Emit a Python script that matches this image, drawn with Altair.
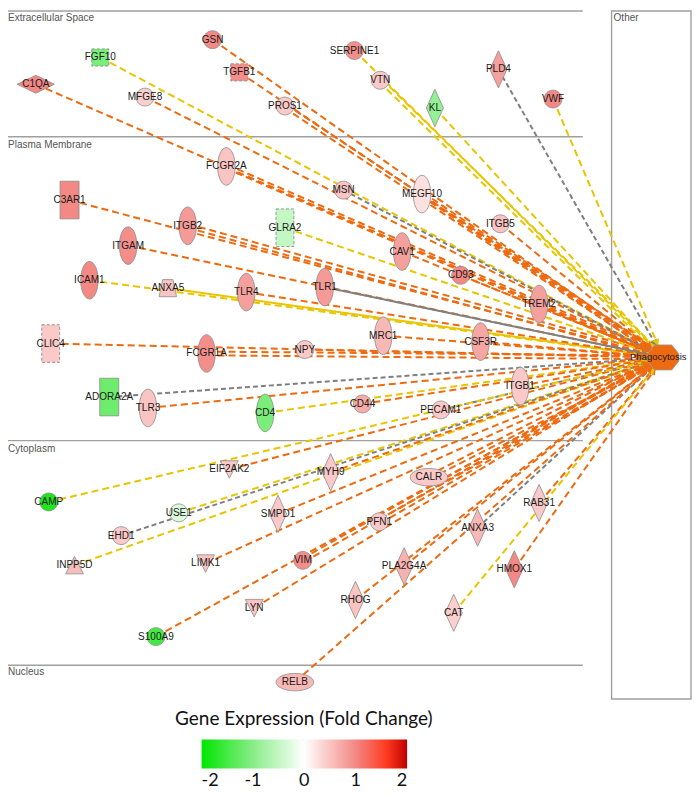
import math
import altair as alt
import pandas as pd

# ---------------- data ----------------
genes = ["GSN", "FGF10", "C1QA", "MFGE8", "TGFB1", "PROS1", "SERPINE1", "VTN", "KL", "PLD4", "VWF",
         "FCGR2A", "C3AR1", "ITGB2", "ITGAM", "GLRA2", "ICAM1", "ANXA5", "TLR4", "MSN", "MEGF10",
         "ITGB5", "CAV1", "CD93", "TLR1", "TREM2", "MRC1", "CSF3R", "NPY", "CLIC4", "FCGR1A",
         "ADORA2A", "TLR3", "CD4", "ITGB1", "CD44", "PECAM1",
         "EIF2AK2", "CAMP", "USE1", "SMPD1", "EHD1", "INPP5D", "LIMK1", "MYH9", "CALR", "PFN1",
         "ANXA3", "RAB31", "VIM", "PLA2G4A", "HMOX1", "RHOG", "CAT", "LYN", "S100A9",
         "RELB"]
pos_x = [214, 101, 36, 146, 241, 287, 357, 383, 438, 502, 557,
         228, 70, 189, 129, 287, 90, 169, 248, 346, 425,
         504, 405, 464, 327, 543, 386, 484, 307, 51, 208,
         110, 149, 267, 524, 365, 444,
         231, 49, 180, 280, 122, 75, 207, 333, 432, 382,
         481, 543, 305, 407, 518, 358, 457, 256, 157,
         297]
pos_y = [40, 58, 85, 98, 73, 107, 51, 81, 109, 70, 100,
         168, 202, 228, 248, 230, 283, 291, 295, 192, 196,
         226, 254, 278, 290, 307, 339, 345, 353, 347, 357,
         401, 412, 417, 390, 408, 414,
         474, 507, 518, 519, 541, 571, 569, 477, 482, 527,
         533, 508, 566, 572, 575, 606, 619, 614, 643,
         689]
mol_type = ["other", "growth factor", "peptidase", "other", "growth factor", "other", "other", "other", "enzyme", "enzyme", "other",
            "transmembrane receptor", "G-protein coupled receptor", "transmembrane receptor", "transmembrane receptor", "ion channel",
            "transmembrane receptor", "transporter", "transmembrane receptor", "other", "transmembrane receptor",
            "other", "transmembrane receptor", "other", "transmembrane receptor", "transmembrane receptor", "transmembrane receptor",
            "transmembrane receptor", "other", "ion channel", "transmembrane receptor",
            "G-protein coupled receptor", "transmembrane receptor", "transmembrane receptor", "transmembrane receptor", "other", "other",
            "kinase", "other", "other", "enzyme", "other", "phosphatase", "kinase", "enzyme", "transcription regulator", "other",
            "enzyme", "enzyme", "other", "enzyme", "enzyme", "enzyme", "enzyme", "kinase", "other",
            "transcription regulator"]
fold_change = [1.0, -1.1, 1.0, 0.4, 0.95, 0.45, 0.95, 0.45, -0.9, 0.8, 1.0,
               0.5, 1.0, 0.85, 0.95, -0.5, 1.0, 0.5, 0.8, 0.5, 0.25,
               0.5, 0.8, 1.0, 0.85, 0.8, 0.6, 0.75, 0.45, 0.45, 0.95,
               -1.2, 0.5, -1.1, 0.45, 0.7, 0.45,
               0.45, -1.8, -0.3, 0.45, 0.45, 0.55, 0.5, 0.45, 0.45, 0.45,
               0.6, 0.45, 0.95, 0.65, 1.0, 0.5, 0.4, 0.5, -1.5,
               0.6]
A, Yl, G = "leads to activation", "findings inconsistent", "effect not predicted"
relation = [A, Yl, A, A, A, A, Yl, Yl, Yl, G, Yl,
            A, A, A, A, Yl, Yl, Yl, A, G, A,
            A, A, A, G, A, A, A, A, A, A,
            G, A, Yl, A, A, G,
            A, Yl, Yl, A, G, Yl, A, A, A, A,
            G, A, A, A, A, A, Yl, A, A,
            A]
link_style = ["indirect"] * len(genes)
link_style[genes.index("ANXA5")] = "direct"
link_style[genes.index("TLR1")] = "direct"
link_count = [2 if g in ("PROS1", "VTN", "FCGR2A", "ITGB2", "MEGF10", "FCGR1A", "CALR", "PFN1", "VIM") else 1
              for g in genes]

target_name = "Phagocytosis"
target_x, target_y = 668, 361
target_label_x = 663

section_names = ["Extracellular Space", "Plasma Membrane", "Cytoplasm", "Nucleus"]
section_line_y = [11, 138, 445, 672]
section_label_y = [18, 146, 453, 679]
section_x0, section_x1 = 7, 587
other_name = "Other"
other_box = (616, 11, 696, 706)

legend_title = "Gene Expression (Fold Change)"
legend_ticks = [-2, -1, 0, 1, 2]
fold_domain = [-2, -1, 0, 1, 1.6, 2]
fold_colors = ["#00e600", "#88ee88", "#ffffff", "#f38884", "#ff3a20", "#c00000"]

rel_domain = [A, Yl, G]
rel_colors = ["#ee6a10", "#e8c500", "#7f7f7f"]

# ---------------- geometry helpers ----------------
W, H = 684, 784
XD, YD = [8, 697], [8, 800]
SX = W / (XD[1] - XD[0])
SY = H / (YD[1] - YD[0])


def ellipse(rx, ry):
    k = 0.5523
    return (f"M0,{-ry} C{k*rx:.3f},{-ry} {rx},{-k*ry:.3f} {rx},0 "
            f"C{rx},{k*ry:.3f} {k*rx:.3f},{ry} 0,{ry} "
            f"C{-k*rx:.3f},{ry} {-rx},{k*ry:.3f} {-rx},0 "
            f"C{-rx},{-k*ry:.3f} {-k*rx:.3f},{-ry} 0,{-ry} Z")


shape_map = {
    "other": ellipse(0.47, 0.47),
    "transmembrane receptor": ellipse(0.46, 0.99),
    "transcription regulator": ellipse(0.99, 0.46),
    "enzyme": "M0,-0.98 L0.45,0 L0,0.98 L-0.45,0 Z",
    "peptidase": "M-0.98,0 L0,-0.47 L0.98,0 L0,0.47 Z",
    "growth factor": "M-0.45,-0.45 L0.45,-0.45 L0.45,0.45 L-0.45,0.45 Z",
    "ion channel": "M-0.47,-0.99 L0.47,-0.99 L0.47,0.99 L-0.47,0.99 Z",
    "G-protein coupled receptor": "M-0.5,-0.99 L0.5,-0.99 L0.5,0.99 L-0.5,0.99 Z",
    "kinase": "M-0.47,-0.45 L0.47,-0.45 L0,0.47 Z",
    "phosphatase": "M0,-0.47 L0.47,0.45 L-0.47,0.45 Z",
    "transporter": "M-0.27,-0.45 L0.27,-0.45 L0.46,0.45 L-0.46,0.45 Z",
}
octagon = "M-0.45,-0.66 L0.45,-0.66 L0.82,-0.2 L0.82,0.2 L0.45,0.66 L-0.45,0.66 L-0.82,0.2 L-0.82,-0.2 Z"
NODE_SIZE = 38 * 38

nodes = pd.DataFrame({"name": genes, "x": pos_x, "y": pos_y, "type": mol_type, "fold": fold_change})

edge_rows, arrow_rows = [], []
for g, x, y, rel, sty, n in zip(genes, pos_x, pos_y, relation, link_style, link_count):
    dx, dy = target_x - x, target_y - y
    L = math.hypot(dx, dy)
    ux, uy = dx / L, dy / L
    r = 1.0 / math.sqrt((ux / 16.0) ** 2 + (uy / 13.0) ** 2)
    ex, ey = target_x - ux * r, target_y - uy * r
    px, py = -uy, ux
    offs = [0.0] if n == 1 else [-1.9, 1.9]
    dash = "solid" if sty == "direct" else ("fine" if rel == G else "coarse")
    for o in offs:
        edge_rows.append(dict(x=x + px * o, y=y + py * o, x2=ex + px * o, y2=ey + py * o,
                              rel=rel, dash=dash))
    arrow_rows.append(dict(x=ex - ux * 3, y=ey - uy * 3,
                           angle=math.degrees(math.atan2(uy, ux)) % 360, rel=rel))
edges = pd.DataFrame(edge_rows)
arrows = pd.DataFrame(arrow_rows)

xs = alt.Scale(domain=XD, nice=False, zero=False)
ys = alt.Scale(domain=YD, nice=False, zero=False, reverse=True)


def X(f="x"):
    return alt.X(f + ":Q", scale=xs, axis=None)


def Y(f="y"):
    return alt.Y(f + ":Q", scale=ys, axis=None)


rel_scale = alt.Scale(domain=rel_domain, range=rel_colors)

# legend placement (reference pixel positions converted to chart pixels)
grad_left, grad_top, grad_right, grad_bottom = 203, 747, 410, 776
legend_x = (grad_left - XD[0]) * SX
legend_y = (grad_top - YD[0]) * SY
legend_len = (grad_right - grad_left) * SX

# ---------------- layers ----------------
sec_df = pd.DataFrame({"name": section_names, "y": section_line_y, "ly": section_label_y,
                       "x": section_x0, "x2": section_x1})
sec_lines = alt.Chart(sec_df).mark_rule(color="#a0a0a0", strokeWidth=1.4).encode(
    x=X(), x2=alt.X2("x2:Q"), y=Y())
sec_labels = alt.Chart(sec_df).mark_text(align="left", baseline="middle", font="Liberation Sans",
                                         fontSize=10, color="#555555", dx=1).encode(
    x=X(), y=Y("ly"), text="name:N")

box_df = pd.DataFrame({"name": [other_name], "x": [other_box[0]], "y": [other_box[1]],
                       "x2": [other_box[2]], "y2": [other_box[3]], "ly": [18]})
box = alt.Chart(box_df).mark_rect(fillOpacity=0, stroke="#a0a0a0", strokeWidth=1.4).encode(
    x=X(), x2=alt.X2("x2:Q"), y=Y(), y2=alt.Y2("y2:Q"))
box_label = alt.Chart(box_df).mark_text(align="left", baseline="middle", font="Liberation Sans",
                                        fontSize=10, color="#555555", dx=2).encode(
    x=X(), y=Y("ly"), text="name:N")

edge_layer = alt.Chart(edges).mark_rule().encode(
    x=X(), y=Y(), x2=alt.X2("x2:Q"), y2=alt.Y2("y2:Q"),
    color=alt.Color("rel:N", scale=rel_scale, legend=None),
    strokeWidth=alt.StrokeWidth("rel:N", scale=alt.Scale(domain=rel_domain, range=[2, 2, 1.2]), legend=None),
    strokeDash=alt.StrokeDash("dash:N", scale=alt.Scale(domain=["solid", "fine", "coarse"],
                                                        range=[[1, 0], [5, 3], [7, 4]]), legend=None),
)
arrow_layer = alt.Chart(arrows).mark_point(shape="triangle-right", filled=True, size=55, opacity=1).encode(
    x=X(), y=Y(), angle=alt.Angle("angle:Q", scale=None),
    color=alt.Color("rel:N", scale=rel_scale, legend=None))

shape_scale = alt.Scale(domain=list(shape_map.keys()), range=list(shape_map.values()))
node_layer = alt.Chart(nodes).mark_point(filled=True, size=NODE_SIZE, opacity=1, stroke="#8c8c8c",
                                         strokeWidth=0.8).encode(
    x=X(), y=Y(),
    shape=alt.Shape("type:N", scale=shape_scale, legend=None),
    fill=alt.Fill("fold:Q", scale=alt.Scale(domain=fold_domain, range=fold_colors, interpolate="rgb"),
                  legend=alt.Legend(orient="none", legendX=legend_x, legendY=legend_y, direction="horizontal",
                                    title=None, gradientLength=legend_len, gradientThickness=29,
                                    gradientStrokeWidth=0, labelFontSize=18, labelFont="Lato",
                                    labelColor="#111111", values=legend_ticks, labelOverlap=False,
                                    labelOffset=3, labelExpr="'' + datum.value", zindex=0,
                                    padding=0)),
    strokeOpacity=alt.condition("datum.type == 'growth factor' || datum.type == 'ion channel'",
                                alt.value(0), alt.value(1)),
)
dashed_border = alt.Chart(nodes).transform_filter(
    "datum.type == 'growth factor' || datum.type == 'ion channel'"
).mark_point(filled=False, size=NODE_SIZE, opacity=1, stroke="#8c8c8c", strokeWidth=0.9,
             strokeDash=[3, 2]).encode(
    x=X(), y=Y(), shape=alt.Shape("type:N", scale=shape_scale, legend=None))

target_df = pd.DataFrame({"name": [target_name], "x": [target_x], "y": [target_y]})
target_layer = alt.Chart(target_df).mark_point(shape=octagon, size=NODE_SIZE, filled=True, opacity=1,
                                               fill="#ee6a10", stroke="#999999", strokeWidth=0.8).encode(
    x=X(), y=Y())

labels_df = nodes[["name", "x", "y"]].copy()
label_layer = alt.Chart(labels_df).mark_text(font="Liberation Sans", fontSize=10, color="#1a1a1a",
                                             baseline="middle", align="center").encode(
    x=X(), y=Y(), text="name:N")
target_label = alt.Chart(pd.DataFrame({"name": [target_name], "x": [target_label_x], "y": [target_y]})).mark_text(
    font="Liberation Sans", fontSize=9.5, color="#1a1a1a", baseline="middle", align="center").encode(
    x=X(), y=Y(), text="name:N")

title_df = pd.DataFrame({"t": [legend_title], "x": [306], "y": [726]})
legend_title_layer = alt.Chart(title_df).mark_text(font="Lato", fontSize=19, color="#111111",
                                                   baseline="middle", align="center").encode(
    x=X(), y=Y(), text="t:N")
zero_df = pd.DataFrame({"x": [305], "y": [grad_top], "y2": [grad_bottom]})
zero_line = alt.Chart(zero_df).mark_rule(color="#b0b0b0", strokeWidth=1).encode(
    x=X(), y=Y(), y2=alt.Y2("y2:Q"))

chart = alt.layer(
    sec_lines, box, edge_layer, arrow_layer, node_layer, dashed_border, target_layer,
    sec_labels, box_label, label_layer, target_label, legend_title_layer, zero_line
).properties(
    width=W, height=H, padding=0, autosize=alt.AutoSizeParams(type="none")
).configure_view(stroke=None)

chart.save("out.html", embed_options={"renderer": "svg", "actions": False})
